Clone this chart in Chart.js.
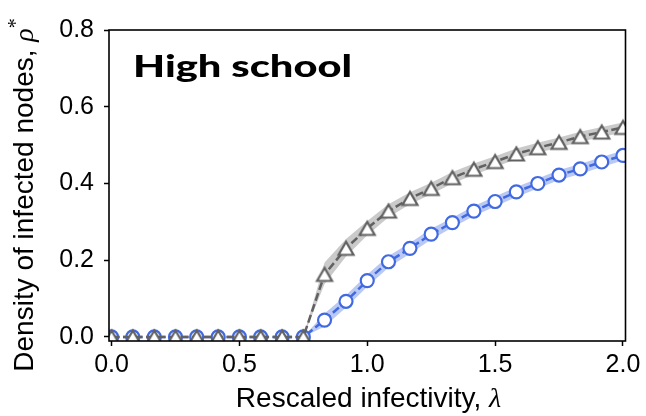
<!DOCTYPE html>
<html>
<head>
<meta charset="utf-8">
<script src="https://cdn.jsdelivr.net/npm/chart.js@4/dist/chart.umd.min.js"></script>
<style>
  html, body { margin: 0; padding: 0; background: #fff; }
  #wrap { width: 646px; height: 416px; position: relative; }
</style>
</head>
<body>
<div id="wrap"><canvas id="chart" width="646" height="416"></canvas></div>
<script>
// Rescaled infectivity values (x) at which the density was measured
const lambdaValues = [0, 0.083, 0.167, 0.25, 0.333, 0.417, 0.5, 0.583, 0.667, 0.75,
  0.833, 0.917, 1.0, 1.083, 1.167, 1.25, 1.333, 1.417, 1.5, 1.583, 1.667, 1.75, 1.833, 1.917, 2.0];

// Stationary density of infected nodes, two models (triangles / circles)
const rhoTriangle = [0, 0, 0, 0, 0, 0, 0, 0, 0, 0,
  0.163, 0.231, 0.283, 0.328, 0.361, 0.387, 0.415, 0.437, 0.457, 0.477, 0.493, 0.507, 0.522, 0.534, 0.546];
const rhoCircle = [0, 0, 0, 0, 0, 0, 0, 0, 0, 0,
  0.044, 0.093, 0.147, 0.196, 0.231, 0.268, 0.298, 0.328, 0.353, 0.378, 0.400, 0.422, 0.438, 0.456, 0.473];

// Shaded uncertainty bands around each curve
const bandTriangleLow  = [0, 0, 0, 0, 0, 0, 0, 0, 0, 0,
  0.138, 0.210, 0.265, 0.312, 0.346, 0.372, 0.400, 0.423, 0.443, 0.463, 0.480, 0.494, 0.509, 0.521, 0.533];
const bandTriangleHigh = [0, 0, 0, 0, 0, 0, 0, 0, 0, 0,
  0.194, 0.255, 0.302, 0.346, 0.377, 0.402, 0.430, 0.452, 0.471, 0.491, 0.506, 0.520, 0.535, 0.547, 0.559];
const bandCircleLow  = [0, 0, 0, 0, 0, 0, 0, 0, 0, 0,
  0.027, 0.077, 0.131, 0.181, 0.217, 0.254, 0.285, 0.315, 0.340, 0.365, 0.387, 0.409, 0.425, 0.443, 0.460];
const bandCircleHigh = [0, 0, 0, 0, 0, 0, 0, 0, 0, 0,
  0.061, 0.109, 0.163, 0.211, 0.245, 0.282, 0.311, 0.341, 0.366, 0.391, 0.413, 0.435, 0.451, 0.469, 0.486];

// Axis ticks
const xTickValues = [0, 0.5, 1.0, 1.5, 2.0];
const xTickLabels = ['0.0', '0.5', '1.0', '1.5', '2.0'];
const yTickValues = [0, 0.2, 0.4, 0.6, 0.8];
const yTickLabels = ['0.0', '0.2', '0.4', '0.6', '0.8'];

const panelTitle = 'High school';

const GRAY = '#616161';
const BLUE = '#4169E1';
const SANS = '"Liberation Sans", Arial, Helvetica, sans-serif';
const SERIF = '"Liberation Serif", "DejaVu Serif", serif';

function pairs(ys) { return lambdaValues.map((x, i) => ({ x: x, y: ys[i] })); }

// Open triangle marker, centred on its bounding box
function triangleMarker(w, h, lw, color) {
  const c = document.createElement('canvas');
  const W = Math.ceil(w + lw * 2 + 2), H = Math.ceil(h + lw * 2 + 2);
  c.width = W; c.height = H;
  const g = c.getContext('2d');
  const cx = W / 2, cy = H / 2;
  g.beginPath();
  g.moveTo(cx, cy - h / 2);
  g.lineTo(cx - w / 2, cy + h / 2);
  g.lineTo(cx + w / 2, cy + h / 2);
  g.closePath();
  g.fillStyle = '#fff';
  g.fill();
  g.lineWidth = lw;
  g.lineJoin = 'miter';
  g.strokeStyle = color;
  g.stroke();
  return c;
}
const triImg = triangleMarker(15, 13, 2.2, GRAY);

// Draw a run of text pieces with different fonts, centred on (x, y)
function drawRich(ctx, parts, x, y) {
  let total = 0;
  parts.forEach(p => { ctx.font = p.font; p.w = ctx.measureText(p.text).width; total += p.w; });
  let cx = x - total / 2;
  parts.forEach(p => {
    ctx.font = p.font;
    ctx.fillText(p.text, cx, y + (p.dy || 0));
    cx += p.w;
  });
}

const decorations = {
  id: 'decorations',
  afterDatasetsDraw(chart) {
    const { ctx, chartArea: a } = chart;
    ctx.save();
    ctx.strokeStyle = '#000';
    ctx.lineWidth = 1.6;
    ctx.strokeRect(a.left, a.top, a.right - a.left, a.bottom - a.top);
    ctx.restore();
  },
  afterDraw(chart) {
    const { ctx } = chart;
    ctx.save();
    ctx.fillStyle = '#000';
    ctx.textBaseline = 'alphabetic';
    ctx.textAlign = 'left';
    // panel label, widened to the heavy humanist face it is set in
    ctx.save();
    ctx.font = '900 31px Lato, "Open Sans", sans-serif';
    const tw = ctx.measureText(panelTitle).width;
    ctx.translate(133, 77);
    ctx.scale(219 / tw, 1);
    ctx.fillText(panelTitle, 0, 0);
    ctx.restore();
    // x axis title
    drawRich(ctx, [
      { text: 'Rescaled infectivity, ', font: '28px ' + SANS },
      { text: 'λ', font: 'italic 28px ' + SERIF }
    ], 368.5, 406.5);
    // y axis title (rotated)
    ctx.translate(33, 195);
    ctx.rotate(-Math.PI / 2);
    drawRich(ctx, [
      { text: 'Density of infected nodes, ', font: '28px ' + SANS },
      { text: 'ρ', font: 'italic 28px ' + SERIF },
      { text: '*', font: '20px ' + SERIF, dy: -11 }
    ], 0, 0);
    ctx.restore();
  }
};

new Chart(document.getElementById('chart'), {
  type: 'line',
  data: {
    datasets: [
      {
        label: 'triangles',
        data: pairs(rhoTriangle),
        order: 0,
        borderColor: GRAY,
        borderWidth: 2.5,
        borderDash: [8, 3.5],
        pointStyle: triImg,
        pointRadius: 8,
        fill: false
      },
      {
        label: 'circles',
        data: pairs(rhoCircle),
        order: 1,
        borderColor: BLUE,
        borderWidth: 2.5,
        borderDash: [8, 3.5],
        pointStyle: 'circle',
        pointRadius: 6.5,
        pointBorderWidth: 2.2,
        pointBorderColor: BLUE,
        pointBackgroundColor: '#fff',
        fill: false
      },
      {
        label: 'triangle band high',
        data: pairs(bandTriangleHigh),
        order: 2,
        borderWidth: 0,
        pointRadius: 0,
        backgroundColor: 'rgba(150,150,150,0.5)',
        fill: '+1'
      },
      {
        label: 'triangle band low',
        data: pairs(bandTriangleLow),
        order: 3,
        borderWidth: 0,
        pointRadius: 0,
        fill: false
      },
      {
        label: 'circle band high',
        data: pairs(bandCircleHigh),
        order: 4,
        borderWidth: 0,
        pointRadius: 0,
        backgroundColor: 'rgba(65,105,225,0.36)',
        fill: '+1'
      },
      {
        label: 'circle band low',
        data: pairs(bandCircleLow),
        order: 5,
        borderWidth: 0,
        pointRadius: 0,
        fill: false
      }
    ]
  },
  options: {
    responsive: false,
    animation: false,
    devicePixelRatio: 1,
    layout: { padding: { top: 30, right: 20.5, left: 0, bottom: 0 } },
    plugins: { legend: { display: false }, tooltip: { enabled: false } },
    scales: {
      x: {
        type: 'linear',
        min: -0.01,
        max: 2.01,
        afterFit(s) { s.height = 75; },
        afterBuildTicks(s) { s.ticks = xTickValues.map(v => ({ value: v })); },
        border: { display: false },
        grid: { drawOnChartArea: false, drawTicks: true, tickLength: 5, tickWidth: 1.5, tickColor: '#000' },
        ticks: {
          color: '#000',
          padding: 4,
          maxRotation: 0,
          font: { family: SANS, size: 25 },
          callback: (v, i) => xTickLabels[i]
        }
      },
      y: {
        type: 'linear',
        min: -0.0105,
        max: 0.8,
        afterFit(s) { s.width = 109; },
        afterBuildTicks(s) { s.ticks = yTickValues.map(v => ({ value: v })); },
        border: { display: false },
        grid: { drawOnChartArea: false, drawTicks: true, tickLength: 5, tickWidth: 1.5, tickColor: '#000' },
        ticks: {
          color: '#000',
          padding: 10,
          font: { family: SANS, size: 25 },
          callback: (v, i) => yTickLabels[i]
        }
      }
    }
  },
  plugins: [decorations]
});
</script>
</body>
</html>
